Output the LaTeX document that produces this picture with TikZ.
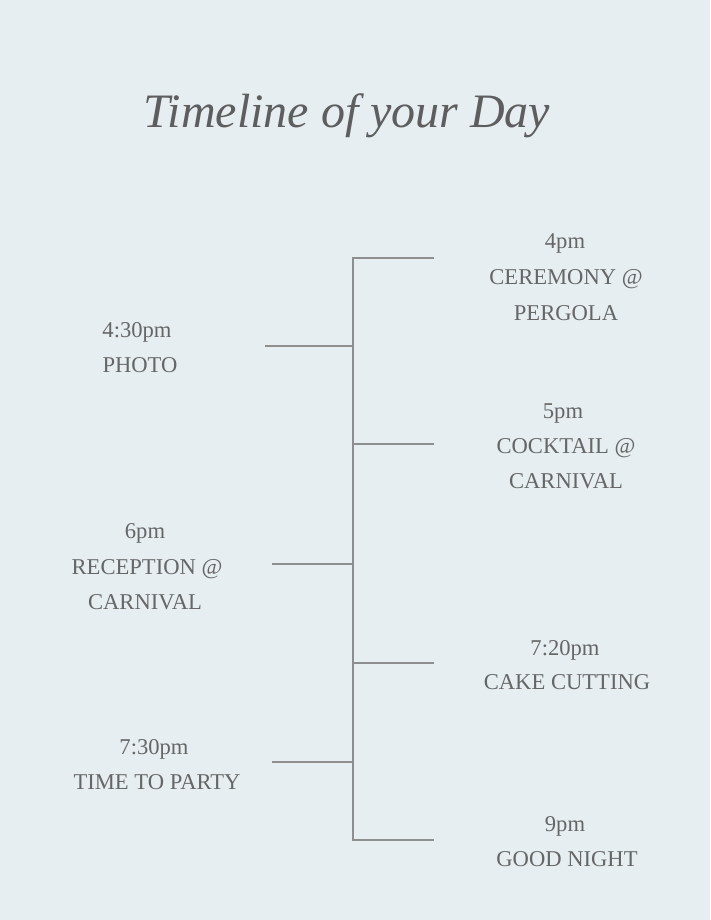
\documentclass[tikz,border=0pt]{standalone}
\usepackage{fontspec}
\setmainfont{Liberation Serif}
\begin{document}
\begin{tikzpicture}[x=1pt,y=-1pt,
  bar/.style={draw=linegray, line width=1.8pt},
  evt/.style={anchor=base, inner sep=0pt, text=textgray, font=\fontsize{22.6}{26}\selectfont},
  ttl/.style={anchor=base, inner sep=0pt, text=titlegray, font=\fontsize{48}{56}\itshape}]
\definecolor{bg}{HTML}{E6EEF2}
\definecolor{linegray}{HTML}{8E8E8E}
\definecolor{textgray}{HTML}{666666}
\definecolor{titlegray}{HTML}{5E5E5E}
\fill[bg] (0,0) rectangle (710,920);
\useasboundingbox (0,0) rectangle (710,920);
% title
\node[ttl] (title) at (347,128) {Timeline of your Day};
% spine and ticks
\coordinate (top) at (353,258);
\coordinate (bot) at (353,840);
\coordinate (r1) at (434,258);
\coordinate (r2) at (434,444);
\coordinate (r3) at (434,663);
\coordinate (r4) at (434,840);
\coordinate (s2) at (353,444);
\coordinate (s3) at (353,663);
\coordinate (l1) at (265,346);
\coordinate (l2) at (272,564);
\coordinate (l3) at (272,762);
\coordinate (t1) at (353,346);
\coordinate (t2) at (353,564);
\coordinate (t3) at (353,762);
\draw[bar] (r1) -- (top) -- (bot) -- (r4);
\draw[bar] (s2) -- (r2);
\draw[bar] (s3) -- (r3);
\draw[bar] (l1) -- (t1);
\draw[bar] (l2) -- (t2);
\draw[bar] (l3) -- (t3);
% right events
\node[evt] (a1) at (565,248) {4pm};
\node[evt] (a2) at (566,284) {CEREMONY @};
\node[evt] (a3) at (566,320) {PERGOLA};
\node[evt] (b1) at (563,418) {5pm};
\node[evt] (b2) at (566,453) {COCKTAIL @};
\node[evt] (b3) at (566,488) {CARNIVAL};
\node[evt] (c1) at (565,655) {7:20pm};
\node[evt] (c2) at (567,689) {CAKE CUTTING};
\node[evt] (d1) at (565,831) {9pm};
\node[evt] (d2) at (567,866) {GOOD NIGHT};
% left events
\node[evt] (e1) at (137,337) {4:30pm};
\node[evt] (e2) at (140,372) {PHOTO};
\node[evt] (f1) at (145,538) {6pm};
\node[evt] (f2) at (147,574) {RECEPTION @};
\node[evt] (f3) at (145,609) {CARNIVAL};
\node[evt] (g1) at (154,754) {7:30pm};
\node[evt] (g2) at (157,789) {TIME TO PARTY};
\end{tikzpicture}
\end{document}
